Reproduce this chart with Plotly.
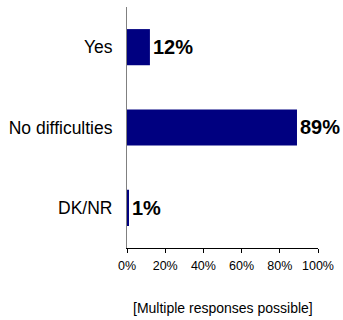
import plotly.graph_objects as go

# Survey answers, bottom-to-top order on the category axis
categories = ["DK/NR", "No difficulties", "Yes"]
shares = [1, 89, 12]
x_ticks = [0, 20, 40, 60, 80, 100]
x_tick_labels = ["0%", "20%", "40%", "60%", "80%", "100%"]
footnote = "[Multiple responses possible]"

font = "Liberation Sans, Arial, sans-serif"

fig = go.Figure(
    go.Bar(
        x=shares,
        y=categories,
        orientation="h",
        width=0.45,
        marker=dict(color="#000080", line=dict(width=0)),
        text=[f"<b>{v}%</b>" for v in shares],
        textposition="outside",
        textfont=dict(family=font, size=20, color="#000000"),
        cliponaxis=False,
        hoverinfo="skip",
    )
)

fig.update_layout(
    width=343,
    height=320,
    margin=dict(l=127, r=25, t=7, b=72),
    paper_bgcolor="white",
    plot_bgcolor="white",
    showlegend=False,
    xaxis=dict(
        range=[0, 100],
        tickvals=x_ticks,
        ticktext=x_tick_labels,
        showgrid=False,
        zeroline=False,
        showline=True,
        linecolor="#000000",
        linewidth=1,
        ticks="outside",
        ticklen=4,
        tickcolor="#000000",
        ticklabelstandoff=2,
        tickfont=dict(family=font, size=12.5, color="#000000"),
        automargin=False,
    ),
    yaxis=dict(
        categoryorder="array",
        categoryarray=categories,
        showgrid=False,
        zeroline=False,
        showline=True,
        linecolor="#808080",
        linewidth=1,
        ticks="",
        ticklabelstandoff=10,
        tickfont=dict(family=font, size=17.5, color="#000000"),
        automargin=False,
    ),
    annotations=[
        dict(
            text=footnote,
            xref="paper",
            yref="paper",
            x=0.5,
            y=0,
            yshift=-60,
            xanchor="center",
            yanchor="middle",
            showarrow=False,
            font=dict(family=font, size=14, color="#000000"),
        )
    ],
)

fig.write_html("out.html")
